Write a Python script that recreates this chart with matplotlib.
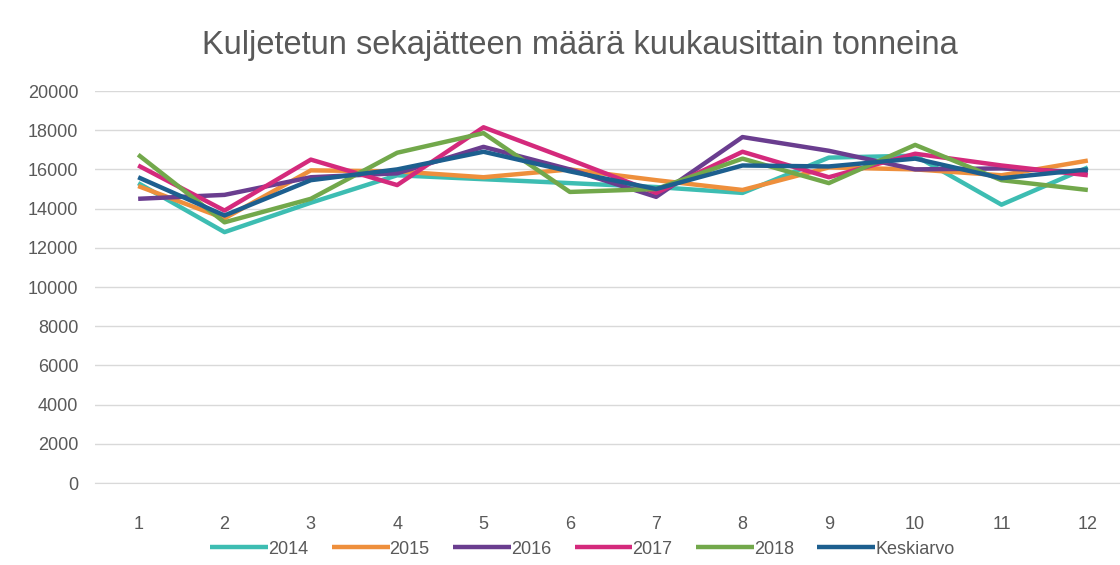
'''
Kuljetetun sekajätteen määrä kuukausittain
'''

import matplotlib.pyplot as plt

plt.rcParams['font.family'] = ['Liberation Sans', 'DejaVu Sans']

months = [1, 2, 3, 4, 5, 6, 7, 8, 9, 10, 11, 12]

y2014 = [15300, 12800, 14300, 15700, 15500, 15300, 15100, 14800, 16600, 16700, 14200, 16100]
y2015 = [15150, 13500, 15950, 15900, 15600, 16000, 15450, 14950, 16100, 16000, 15700, 16450]
y2016 = [14500, 14700, 15600, 15800, 17150, 16000, 14600, 17650, 16950, 16000, 16050, 15850]
y2017 = [16200, 13900, 16500, 15200, 18150, 16500, 14800, 16900, 15600, 16800, 16200, 15700]
y2018 = [16750, 13300, 14500, 16850, 17850, 14850, 15000, 16550, 15300, 17250, 15450, 14950]
keskiarvo = [15600, 13650, 15450, 16000, 16900, 15900, 15000, 16200, 16150, 16550, 15550, 16000]

series = [
    ('2014', y2014, '#3dbdb2'),
    ('2015', y2015, '#ee8f3c'),
    ('2016', y2016, '#6a3d8f'),
    ('2017', y2017, '#d42a7c'),
    ('2018', y2018, '#72a84b'),
    ('Keskiarvo', keskiarvo, '#1d5f8f'),
]

fig = plt.figure(figsize=(11.2, 5.65), dpi=100)
ax = fig.add_axes([95 / 1120, 82 / 565, 1036 / 1120, 392 / 565])

for name, vals, col in series:
    ax.plot(months, vals, color=col, linewidth=3.2, label=name, solid_capstyle='butt')

ax.set_xlim(0.5, 12.5)
ax.set_ylim(0, 20000)
ax.set_yticks(range(0, 20001, 2000))
ax.set_xticks(months)
ax.grid(axis='y', color='#d9d9d9', linewidth=1)
ax.set_axisbelow(True)
for s in ['top', 'right', 'left']:
    ax.spines[s].set_visible(False)
ax.spines['bottom'].set_color('#d9d9d9')
ax.tick_params(axis='both', length=0, colors='#595959', labelsize=13)
ax.tick_params(axis='x', pad=24)
ax.tick_params(axis='y', pad=12)

fig.text(0.518, 0.92, 'Kuljetetun sekajätteen määrä kuukausittain tonneina',
         ha='center', va='center', fontsize=23.5, color='#595959')

fig.legend(loc='center', bbox_to_anchor=(0.52, 0.028), ncol=6, frameon=False,
           fontsize=13, handlelength=3.2, handletextpad=0.0, columnspacing=1.3,
           labelcolor='#595959')

plt.savefig('out.png', dpi=100)
